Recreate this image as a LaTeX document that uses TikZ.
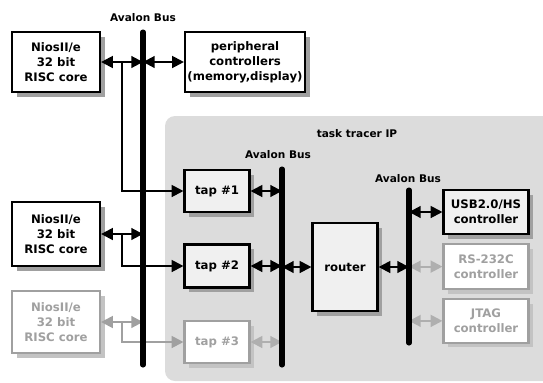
\documentclass[tikz,border=0pt]{standalone}
\usepackage{fontspec}
\setmainfont{DejaVu Sans}
\usepackage{tikz}
\usetikzlibrary{
    arrows.meta,
    positioning,
    shadows,
    calc
}
\definecolor{Cip}{RGB}{220, 220, 220}
\definecolor{Cfill}{RGB}{240, 240, 240}
\definecolor{Cdim}{RGB}{160, 160, 160}
\definecolor{Cdimarr}{RGB}{175, 175, 175}
\definecolor{Cshade}{RGB}{160, 160, 160}
\definecolor{Cdimshade}{RGB}{195, 195, 195}
\tikzset{
    tbox/.style={
        rectangle, draw=black, line width=1.8pt,
        fill=white, text=black, align=center,
        font=\fontsize{10}{12.8}\selectfont\bfseries, inner sep=2pt,
        drop shadow={shadow xshift=4.2pt, shadow yshift=-4.2pt, fill=Cshade, opacity=1}
    },
    tdim/.style={
        rectangle, draw=Cdim, line width=1.8pt,
        fill=white, text=Cdim, align=center,
        font=\fontsize{10}{12.8}\selectfont\bfseries, inner sep=2pt,
        drop shadow={shadow xshift=4.2pt, shadow yshift=-4.2pt, fill=Cdimshade, opacity=1}
    },
    tlbl/.style={font=\fontsize{9}{11}\selectfont\bfseries, inner sep=1pt},
    tbus/.style={line width=4.3pt, line cap=round},
    tarr/.style={{Triangle[length=10pt, width=10pt]}-{Triangle[length=10pt, width=10pt]}, line width=1.8pt},
    tone/.style={-{Triangle[length=10pt, width=10pt]}, line width=1.8pt},
}
\begin{document}
\begin{tikzpicture}[x=0.03cm, y=-0.03cm]
    \useasboundingbox (0,0) rectangle (543,382);

    % task tracer area
    \fill [Cip] (543,116) [rounded corners=0.3cm] -- (165,116) -- (165,381) [sharp corners] -- (543,381) -- cycle;
    \node [tlbl] (iplbl) at (357,134) {task tracer IP};

    % buses
    \coordinate (bus1t) at (143,32);  \coordinate (bus1b) at (143,365);
    \coordinate (bus2t) at (282,169); \coordinate (bus2b) at (282,365);
    \coordinate (bus3t) at (409,190); \coordinate (bus3b) at (409,343);
    \node [tlbl] (bus1lbl) at (143,18) {Avalon Bus};
    \node [tlbl] (bus2lbl) at (278,155) {Avalon Bus};
    \node [tlbl] (bus3lbl) at (408,179) {Avalon Bus};

    % cores and peripherals
    \node [tbox, minimum width=2.64cm, minimum height=1.8cm]
        (cpu1) at (56,62) {NiosII/e\\32 bit\\RISC core};
    \node [tbox, minimum width=2.64cm, minimum height=1.9cm]
        (cpu2) at (56,234) {NiosII/e\\32 bit\\RISC core};
    \node [tdim, minimum width=2.64cm, minimum height=1.86cm]
        (cpu3) at (56,322) {NiosII/e\\32 bit\\RISC core};
    \node [tbox, minimum width=3.6cm, minimum height=1.8cm]
        (periph) at (245,62) {peripheral\\controllers\\(memory,display)};

    % taps and router
    \node [tbox, fill=Cfill, minimum width=1.95cm, minimum height=1.26cm]
        (tap1) at (217,191) {tap \#1};
    \node [tbox, fill=Cfill, minimum width=1.95cm, minimum height=1.29cm]
        (tap2) at (217,266) {tap \#2};
    \node [tdim, minimum width=1.95cm, minimum height=1.26cm]
        (tap3) at (217,342) {tap \#3};
    \node [tbox, fill=Cfill, minimum width=1.95cm, minimum height=2.64cm]
        (router) at (345,267) {router};

    % controllers
    \node [tbox, fill=Cfill, minimum width=2.55cm, minimum height=1.32cm]
        (usb) at (486,212) {USB2.0/HS\\controller};
    \node [tdim, minimum width=2.55cm, minimum height=1.35cm, below=0.24cm of usb]
        (rs) {RS-232C\\controller};
    \node [tdim, minimum width=2.55cm, minimum height=1.3cm, below=0.24cm of rs]
        (jtag) {JTAG\\controller};

    % connectors
    \coordinate (j1) at ($(cpu1.east)!.5!(cpu1.east -| bus1t)$);
    \coordinate (j2) at ($(cpu2.east)!.5!(cpu2.east -| bus1t)$);
    \coordinate (j3) at ($(cpu3.east)!.5!(cpu3.east -| bus1t)$);
    \draw [tone] (j1) |- (tap1.west);
    \draw [tone] (j2) |- (tap2.west);
    \draw [tone, Cdim] (j3) |- (tap3.west);
    \draw [tarr] (cpu1.east) -- (cpu1.east -| bus1t);
    \draw [tarr] (cpu2.east) -- (cpu2.east -| bus1t);
    \draw [tarr, Cdim] (cpu3.east) -- (cpu3.east -| bus1t);
    \draw [tarr] (periph.west -| bus1t) -- (periph.west);

    \draw [tarr] (tap1.east) -- (tap1.east -| bus2t);
    \draw [tarr] (tap2.east) -- (tap2.east -| bus2t);
    \draw [tarr, Cdimarr] (tap3.east) -- (tap3.east -| bus2t);
    \draw [tarr] (router.west -| bus2t) -- (router.west);
    \draw [tarr] (router.east) -- (router.east -| bus3t);

    \draw [tarr] (usb.west -| bus3t) -- (usb.west);
    \draw [tarr, Cdimarr] (rs.west -| bus3t) -- (rs.west);
    \draw [tarr, Cdimarr] (jtag.west -| bus3t) -- (jtag.west);

    \draw [tbus] (bus1t) -- (bus1b);
    \draw [tbus] (bus2t) -- (bus2b);
    \draw [tbus] (bus3t) -- (bus3b);

\end{tikzpicture}
\end{document}
